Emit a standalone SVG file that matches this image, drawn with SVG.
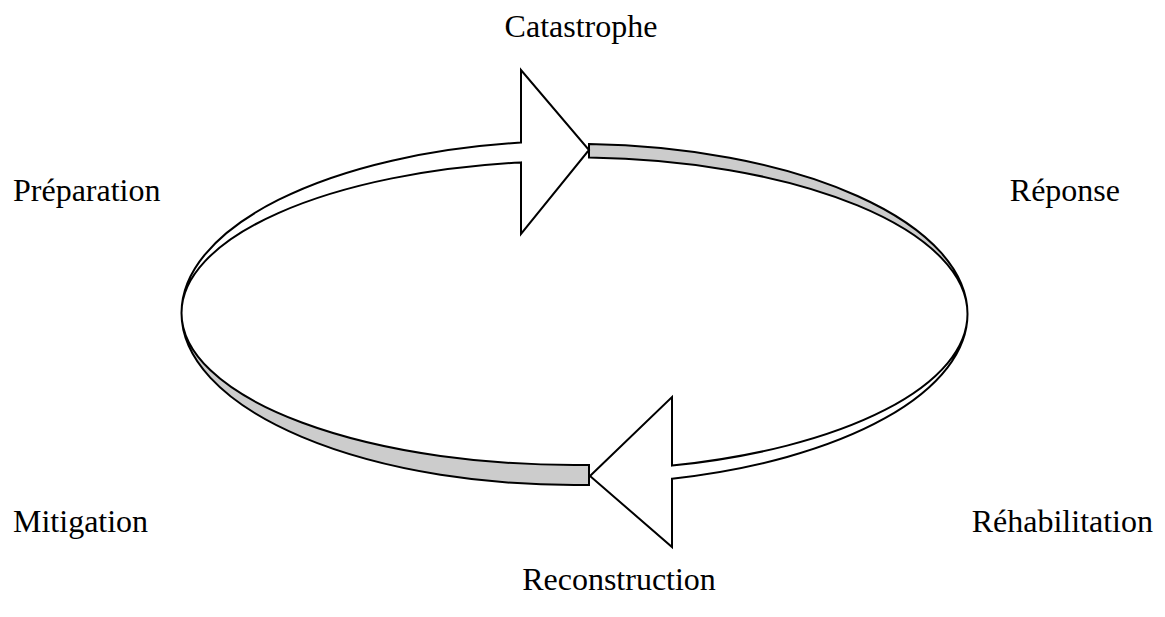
<svg xmlns="http://www.w3.org/2000/svg" width="1165" height="617" viewBox="0 0 1165 617">
<style>
.lbl{font-family:"Liberation Serif","Times New Roman",serif;font-size:32px;fill:#000}
.band{stroke:#000;stroke-width:2;stroke-linejoin:miter}
.white{fill:#fff}
.gray{fill:#cccccc}
</style>
<rect width="1165" height="617" fill="#fff"/>
<g id="connectors">
<path class="band gray" d="M 181.5,313 A 393 172 0 0 0 589,484.9 L 589,464.9 A 393 152 0 0 1 181.5,313 Z"/>
<path class="band gray" d="M 589,144.1 A 393 170 0 0 1 967.5,314 A 393 156.5 0 0 0 589,157.6 Z"/>
<path class="band white" d="M 181.5,313 A 393 172 0 0 1 521,142.6 L 521,70 L 589,150 L 521,234 L 521,162.4 A 393 152 0 0 0 181.5,313 Z"/>
<path class="band white" d="M 967.5,314 A 393 170 0 0 1 672,478.7 L 672,547 L 590,476 L 672,397 L 672,465.6 A 393 156.5 0 0 0 967.5,314 Z"/>
</g>
<g id="catastrophe"><text class="lbl" x="581" y="37" text-anchor="middle">Catastrophe</text></g>
<g id="reponse"><text class="lbl" x="1120" y="201" text-anchor="end">Réponse</text></g>
<g id="rehabilitation"><text class="lbl" x="1153" y="532" text-anchor="end">Réhabilitation</text></g>
<g id="reconstruction"><text class="lbl" x="619" y="590" text-anchor="middle">Reconstruction</text></g>
<g id="mitigation"><text class="lbl" x="13" y="532">Mitigation</text></g>
<g id="preparation"><text class="lbl" x="13" y="201">Préparation</text></g>
</svg>
